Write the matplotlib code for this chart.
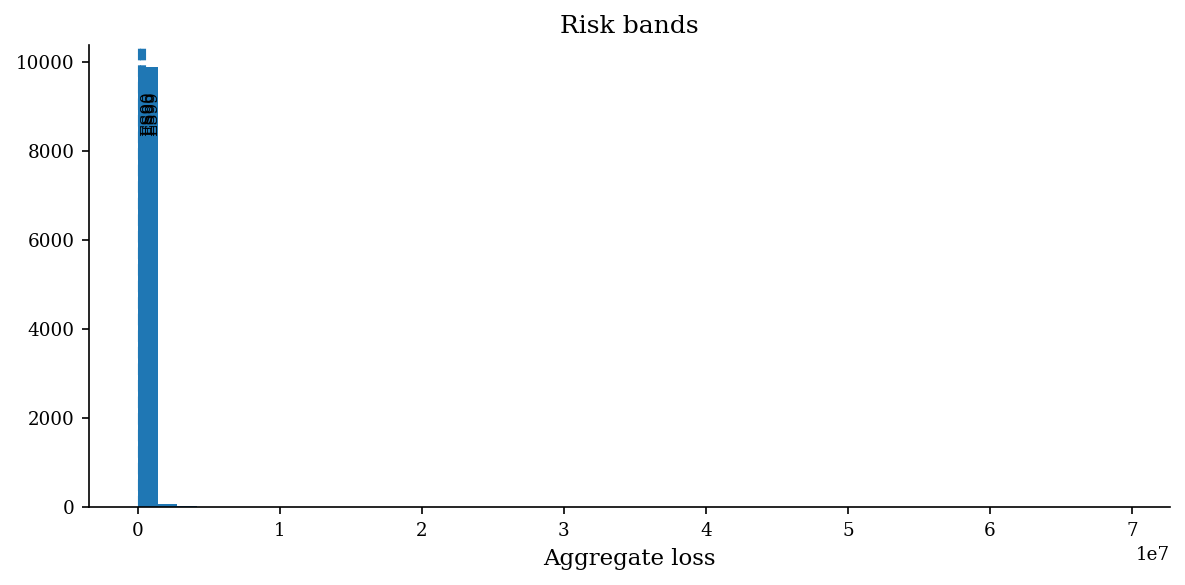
import matplotlib
matplotlib.use("Agg")
import matplotlib.pyplot as plt
import numpy as np

# histograma de perdida agregada (50 bins, 0 .. ~6.92e7)
loss_min = 0.0
loss_max = 6.92e7
n_bins = 50
counts = [9888, 68, 17, 7, 4, 3, 2, 2, 1, 1,
          1, 0, 1, 0, 1, 0, 0, 1, 0, 0,
          0, 1, 0, 0, 0, 0, 0, 0, 0, 0,
          0, 0, 0, 0, 0, 0, 0, 0, 0, 0,
          0, 0, 0, 0, 0, 0, 0, 0, 0, 1]

# bandas de riesgo
band_labels = ["ES90", "ES95", "ES99"]
band_values = [0.05e6, 0.2e6, 0.4e6]

plt.rcParams["font.family"] = "serif"

fig, ax = plt.subplots(figsize=(7.9, 3.9), dpi=150)
fig.subplots_adjust(left=0.075, right=0.987, top=0.923, bottom=0.133)

edges = np.linspace(loss_min, loss_max, n_bins + 1)
ax.hist(edges[:-1], bins=edges, weights=counts, color="C0")

for lab, v in zip(band_labels, band_values):
    ax.axvline(v, color="C0", linestyle="--", linewidth=1.5)
ymax = ax.get_ylim()[1]
for lab, v in zip(band_labels, band_values):
    ax.text(v, ymax * 0.9, lab, rotation=90, va="top", fontsize=8)

ax.set_title("Risk bands", fontsize=12)
ax.set_xlabel("Aggregate loss", fontsize=11)
ax.tick_params(labelsize=8.8)
ax.xaxis.get_offset_text().set_fontsize(8.8)
ax.spines["top"].set_visible(False)
ax.spines["right"].set_visible(False)

fig.savefig("out.png")
